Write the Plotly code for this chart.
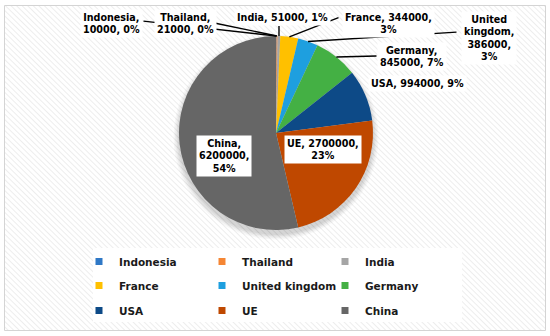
import base64
import math
import plotly.graph_objects as go

# ---------------- data ----------------
categories = ["Indonesia", "Thailand", "India", "France", "United kingdom",
              "Germany", "USA", "UE", "China"]
values = [10000, 21000, 51000, 344000, 386000, 845000, 994000, 2700000, 6200000]
pct_labels = [0, 0, 1, 3, 3, 7, 9, 23, 54]
colors = ["#2F78C6", "#F58634", "#A5A5A5", "#FFC000", "#1E9FDF",
          "#44B044", "#0D4A87", "#BF4800", "#666666"]

# label text layout (line breaks as in the reference)
label_templates = [
    "{n},<br>{v}, {p}%",
    "{n},<br>{v}, {p}%",
    "{n}, {v}, {p}%",
    "{n}, {v},<br>{p}%",
    "{n1}<br>{n2},<br>{v},<br>{p}%",
    "{n},<br>{v}, {p}%",
    "{n}, {v}, {p}%",
    "{n}, {v},<br>{p}%",
    "{n},<br>{v},<br>{p}%",
]

# ---------------- geometry / style ----------------
W, H = 550, 336
CX, CY, R = 276, 133, 97          # pie centre / radius in px


def fx(x):
    return x / W


def fy(y):
    return 1 - y / H


# label centres (px)
label_pos = [(111, 24), (185, 24), (282, 17), (388, 24), (489, 37.5),
             (412, 56.5), (417, 83.5), (323, 149.5), (224, 156)]
# leader line start points (px), None = no leader line
leader_start = [(142, 21), (214, 23), (279, 24), (340, 17), (458, 32),
                (378, 56), None, None, None]

FONT = "DejaVu Sans"

fig = go.Figure()

fig.add_trace(go.Pie(
    labels=categories, values=values, sort=False, direction="clockwise",
    rotation=0, textinfo="none", showlegend=False,
    marker=dict(colors=colors, line=dict(width=0)),
    domain=dict(x=[fx(CX - R), fx(CX + R)], y=[fy(CY + R), fy(CY - R)]),
    hoverinfo="label+value+percent",
))

# legend entries (small square symbols), three rows of three
legend_ids = ["legend", "legend2", "legend3"]
for i, (name, col) in enumerate(zip(categories, colors)):
    fig.add_trace(go.Scatter(
        x=[None], y=[None], mode="markers", name=name,
        marker=dict(symbol="square", size=7, color=col),
        showlegend=True, hoverinfo="skip", legend=legend_ids[i // 3],
    ))

# ---------------- annotations ----------------
total = sum(values)
annotations = []
cum = 0
tips = []
for v in values:
    mid = (cum + v / 2) / total * 2 * math.pi
    tips.append((CX + R * math.sin(mid), CY - R * math.cos(mid)))
    cum += v

# leader lines first (label boxes drawn on top of them)
for start, tip in zip(leader_start, tips):
    if start is None:
        continue
    annotations.append(dict(
        x=fx(tip[0]), y=fy(tip[1]), xref="paper", yref="paper",
        text=" ", showarrow=True, arrowhead=0, arrowwidth=1.4,
        arrowcolor="#000000", ax=start[0] - tip[0], ay=start[1] - tip[1],
        axref="pixel", ayref="pixel", standoff=0, startstandoff=0,
        font=dict(size=1),
    ))

for name, v, p, tpl, pos in zip(categories, values, pct_labels,
                                 label_templates, label_pos):
    parts = name.split(" ")
    txt = tpl.format(n=name, n1=parts[0], n2=parts[-1], v=v, p=p)
    annotations.append(dict(
        x=fx(pos[0]), y=fy(pos[1]), xref="paper", yref="paper",
        xanchor="center", yanchor="middle", align="center",
        text=txt, showarrow=False, bgcolor="#FFFFFF", borderpad=2,
        font=dict(family=FONT, size=9.6, color="#000000", weight="bold"),
    ))

# ---------------- background hatch ----------------
svg = (
    f'<svg xmlns="http://www.w3.org/2000/svg" width="{W}" height="{H}">'
    '<defs><pattern id="p" width="4" height="4" patternUnits="userSpaceOnUse" '
    'patternTransform="rotate(-45)">'
    '<rect width="4" height="4" fill="#FFFFFF"/>'
    '<line x1="0" y1="0" x2="0" y2="4" stroke="#E6E6E6" stroke-width="1.4"/>'
    '</pattern></defs>'
    '<rect width="100%" height="100%" fill="url(#p)"/></svg>'
)
src = "data:image/svg+xml;base64," + base64.b64encode(svg.encode()).decode()

shapes = []
# soft shadow beneath pie
for k, op in enumerate([0.05, 0.05, 0.04, 0.03]):
    rr = R + 1 + 1.5 * k
    cy = CY + 4
    shapes.append(dict(type="circle", xref="paper", yref="paper",
                       x0=fx(CX - rr), x1=fx(CX + rr),
                       y0=fy(cy + rr), y1=fy(cy - rr),
                       fillcolor=f"rgba(0,0,0,{op})", line=dict(width=0),
                       layer="below"))
# legend box
shapes.append(dict(type="rect", xref="paper", yref="paper",
                   x0=fx(93), x1=fx(462), y0=fy(322), y1=fy(248),
                   fillcolor="#FFFFFF", line=dict(width=0), layer="below"))
# outer frame
shapes.append(dict(type="rect", xref="paper", yref="paper",
                   x0=fx(4.5), x1=fx(545.5), y0=fy(330.5), y1=fy(5.5),
                   fillcolor="rgba(0,0,0,0)", line=dict(color="#D4D4D4", width=1),
                   layer="above"))

legend_common = dict(
    orientation="h", x=fx(79), xanchor="left", yanchor="top",
    entrywidth=78, entrywidthmode="pixels", itemwidth=30,
    bgcolor="rgba(0,0,0,0)", borderwidth=0,
    font=dict(family=FONT, size=10.5, color="#1A1A1A", weight="bold"),
    itemclick=False, itemdoubleclick=False,
)
row_tops = [247, 271, 296]

fig.update_layout(
    width=W, height=H, autosize=False,
    margin=dict(l=0, r=0, t=0, b=0),
    paper_bgcolor="#FFFFFF", plot_bgcolor="rgba(0,0,0,0)",
    xaxis=dict(visible=False, range=[0, 1]),
    yaxis=dict(visible=False, range=[0, 1]),
    images=[dict(source=src, xref="paper", yref="paper",
                 x=fx(5), y=fy(6), sizex=fx(545) - fx(5), sizey=fy(6) - fy(330),
                 xanchor="left", yanchor="top", sizing="stretch", layer="below")],
    shapes=shapes,
    annotations=annotations,
    showlegend=True,
    legend=dict(legend_common, y=fy(row_tops[0])),
    legend2=dict(legend_common, y=fy(row_tops[1])),
    legend3=dict(legend_common, y=fy(row_tops[2])),
)

fig.write_html("out.html",
               config={"displayModeBar": False},
               post_script="document.body.style.margin='0';")
